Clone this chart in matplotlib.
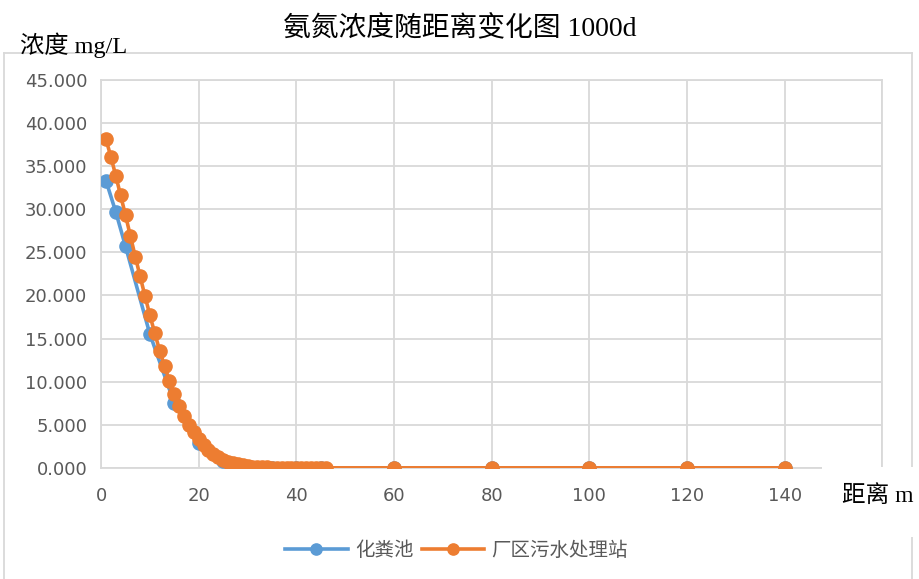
import matplotlib
matplotlib.use("Agg")
import matplotlib.pyplot as plt
from matplotlib.lines import Line2D
from matplotlib.patches import Rectangle

plt.rcParams['font.family'] = ['DejaVu Sans', 'Noto Sans CJK SC']

# 化粪池
septic_x = [1, 3, 5, 10, 15, 20, 25, 30, 35, 40, 45, 60, 80, 100, 120, 140]
septic_y = [33.3, 29.7, 25.7, 15.5, 7.5, 2.9, 0.8, 0.15, 0.02, 0.0, 0.0,
            0.0, 0.0, 0.0, 0.0, 0.0]

# 厂区污水处理站
plant_x = list(range(1, 47)) + [60, 80, 100, 120, 140]
plant_y = [38.1, 36.1, 33.9, 31.6, 29.3, 26.9, 24.5, 22.2, 19.9, 17.7,
           15.6, 13.6, 11.8, 10.1, 8.6, 7.2, 6.0, 5.0, 4.1, 3.3,
           2.6, 2.1, 1.6, 1.25, 0.95, 0.72, 0.54, 0.40, 0.29, 0.21,
           0.15, 0.11, 0.07, 0.05, 0.035, 0.024, 0.016, 0.01, 0.007, 0.004,
           0.003, 0.002, 0.001, 0.001, 0.0, 0.0,
           0.0, 0.0, 0.0, 0.0, 0.0]

x_ticks = [0, 20, 40, 60, 80, 100, 120, 140, 160]
x_tick_labels = ['0', '20', '40', '60', '80', '100', '120', '140', '']
y_ticks = [0, 5, 10, 15, 20, 25, 30, 35, 40, 45]

blue = '#5B9BD5'
orange = '#ED7D31'
grid = '#D9D9D9'
text_gray = '#595959'
serif_cjk = ['Liberation Serif', 'Noto Sans CJK SC']

fig = plt.figure(figsize=(9.19, 5.79), dpi=100)
ax = fig.add_axes([0.110, 0.192, 0.850, 0.670])

ax.plot(septic_x, septic_y, color=blue, lw=2.6, marker='o', ms=9.5,
        label='化粪池', zorder=3)
ax.plot(plant_x, plant_y, color=orange, lw=2.6, marker='o', ms=9.5,
        label='厂区污水处理站', zorder=4)

ax.set_xlim(0, 160)
ax.set_ylim(0, 45)
ax.set_xticks(x_ticks)
ax.set_xticklabels(x_tick_labels)
ax.set_yticks(y_ticks)
ax.set_yticklabels(['%.3f' % v for v in y_ticks])
ax.tick_params(length=0, labelsize=13, labelcolor=text_gray)
ax.tick_params(axis='y', pad=10)
ax.tick_params(axis='x', pad=14)
ax.grid(True, color=grid, lw=1.3)
ax.set_axisbelow(True)
for s in ax.spines.values():
    s.set_color(grid)
    s.set_linewidth(1.3)

# chart area frame
for xs, ys in [([0.0044, 0.9924], [0.9085, 0.9085]),
               ([0.0044, 0.0044], [0.0, 0.9085]),
               ([0.9924, 0.9924], [0.0, 0.9085])]:
    fig.add_artist(Line2D(xs, ys, color=grid, lw=1.3))

# axis titles
fig.add_artist(Rectangle((0.8945, 0.0725), 0.105, 0.121, facecolor='white',
                         edgecolor='none', zorder=5))
fig.text(0.955, 0.143, '距离 m', ha='center', va='center', fontsize=17,
         family=serif_cjk, zorder=6)
fig.text(0.022, 0.922, '浓度 mg/L', ha='left', va='center', fontsize=17.5,
         family=serif_cjk)
fig.text(0.500, 0.950, '氨氮浓度随距离变化图 1000d', ha='center', va='center',
         fontsize=20, family=serif_cjk)

leg = fig.legend(loc='center', bbox_to_anchor=(0.497, 0.050), ncol=2,
                 frameon=False, fontsize=14, handlelength=3.2,
                 columnspacing=0.4, handletextpad=0.4, markerscale=0.85)
for t in leg.get_texts():
    t.set_color(text_gray)

fig.savefig('out.png', dpi=100)
